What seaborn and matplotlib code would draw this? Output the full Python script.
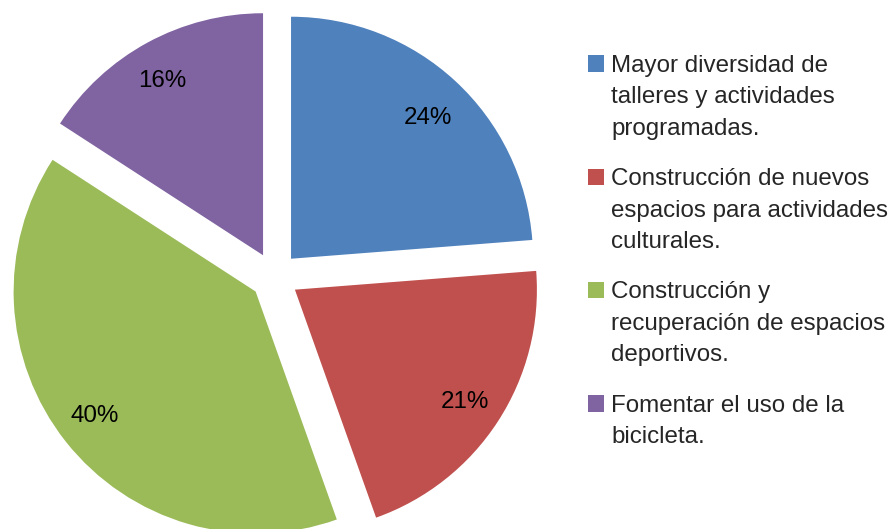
import matplotlib
matplotlib.use("Agg")
import matplotlib.pyplot as plt
import numpy as np
import seaborn as sns
from matplotlib.legend_handler import HandlerPatch
from matplotlib.patches import Rectangle

sns.set_theme(style="white")
plt.rcParams['font.family'] = ['Liberation Sans', 'DejaVu Sans']

categories = [
    "Mayor diversidad de\ntalleres y actividades\nprogramadas.",
    "Construcción de nuevos\nespacios para actividades\nculturales.",
    "Construcción y\nrecuperación de espacios\ndeportivos.",
    "Fomentar el uso de la\nbicicleta.",
]
values = [24, 21, 40, 16]
colors = ["#4F81BD", "#C0504D", "#9BBB59", "#8064A2"]
label_dist = [0.81, 0.84, 0.84, 0.83]
label_rot = [-1.5, -0.5, -0.5, 1.5]

W, H, DPI = 890, 529, 100
fig = plt.figure(figsize=(W / DPI, H / DPI), dpi=DPI)
ax = fig.add_axes([0, 0, 1, 1])

R = 242.0
cx, cy = 274.6, H - 276.5

wedges, texts, autotexts = ax.pie(
    values, colors=colors, startangle=90, counterclock=False,
    explode=[0.1] * 4, autopct="%.0f%%", pctdistance=0.83,
    textprops=dict(fontsize=17.4, color="black"), radius=1.0,
    wedgeprops=dict(linewidth=0), frame=False,
)
for w, t, d, r in zip(wedges, autotexts, label_dist, label_rot):
    th = np.deg2rad((w.theta1 + w.theta2) / 2 + r)
    x0, y0 = w.center
    t.set_position((x0 + d * np.cos(th), y0 + d * np.sin(th)))

ax.set_xlim(-cx / R, (W - cx) / R)
ax.set_ylim(-cy / R, (H - cy) / R)
ax.set_aspect("equal")
ax.axis("off")

LINE_PX = 31.7
nlines = {id(w): c.count("\n") + 1 for w, c in zip(wedges, categories)}


class TopHandler(HandlerPatch):
    def create_artists(self, legend, orig_handle, xdescent, ydescent,
                       width, height, fontsize, trans):
        n = nlines[id(orig_handle)]
        off = (n - 1) / 2 * LINE_PX * 72.0 / DPI
        return [Rectangle((-xdescent, -ydescent + off + 1.5), width, height,
                          facecolor=orig_handle.get_facecolor(),
                          edgecolor="none", transform=trans)]


leg = fig.legend(
    wedges, categories, loc="upper left",
    bbox_to_anchor=(588 / W, 1 - 55 / H), bbox_transform=fig.transFigure,
    frameon=False, fontsize=17.4, borderpad=0, borderaxespad=0,
    handlelength=0.68, handleheight=0.68, handletextpad=0.28,
    labelspacing=1.18,
    handler_map={w: TopHandler() for w in wedges},
)
for t in leg.get_texts():
    t.set_linespacing(1.55)

fig.savefig("out.png", dpi=DPI)
